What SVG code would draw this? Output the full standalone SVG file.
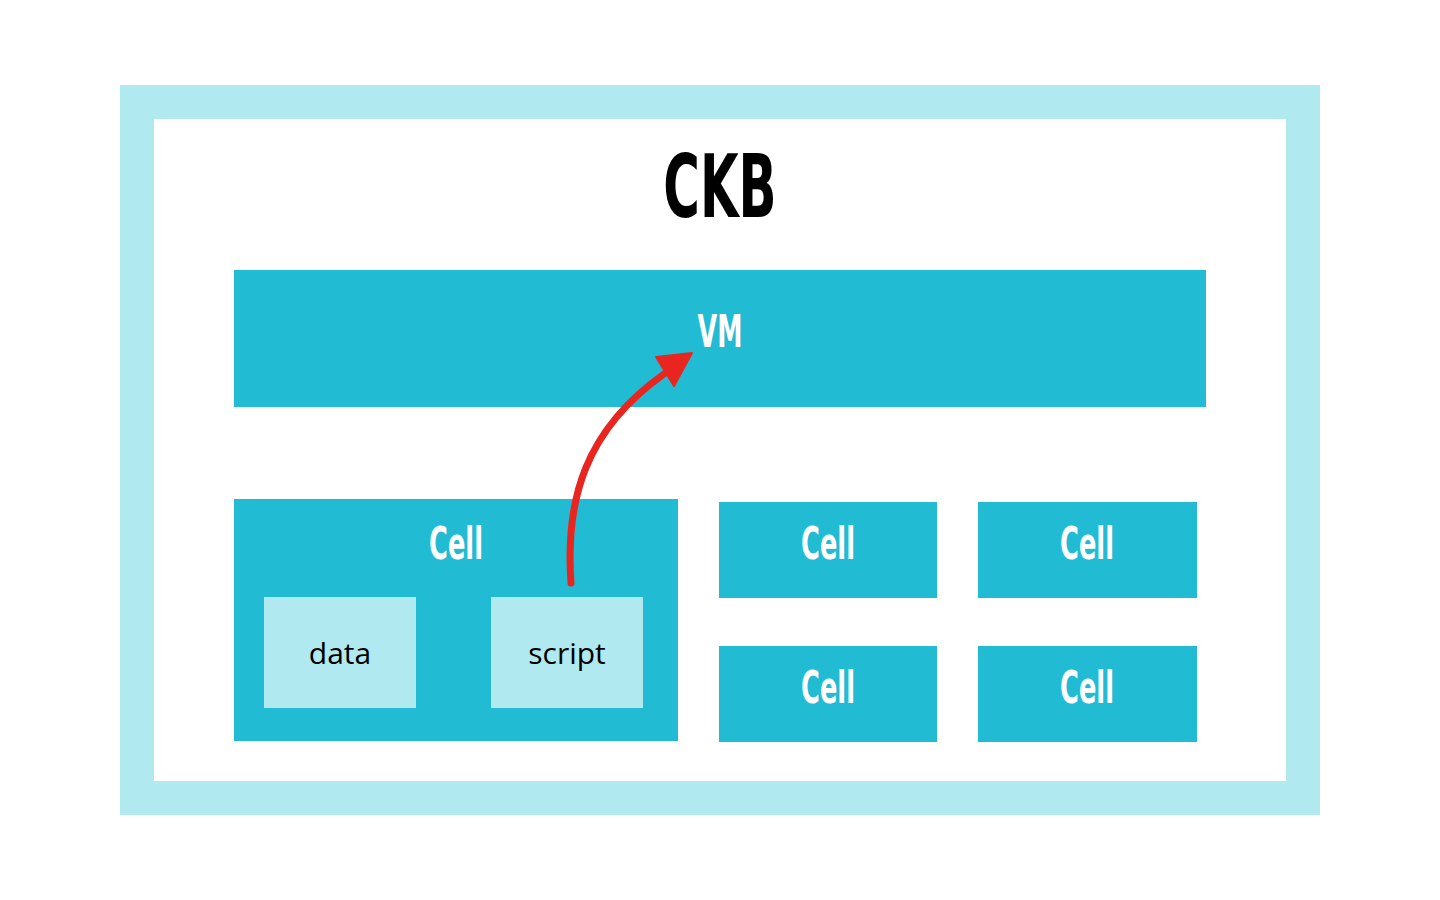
<svg xmlns="http://www.w3.org/2000/svg" width="1440" height="900" viewBox="0 0 1440 900">
<style>
.frame{fill:#B0EAF0}
.blk{fill:#22BBD4}
.lt{fill:#B0EAF0}
.cond{font-family:"DejaVu Sans Condensed","DejaVu Sans",sans-serif;font-weight:bold;text-anchor:middle}
.w{fill:#ffffff}
.lbl{font-family:"Open Sans","Liberation Sans",sans-serif;font-size:30px;fill:#000;text-anchor:middle}
</style>
<rect width="1440" height="900" fill="#ffffff"/>
<g id="ckb">
<rect class="frame" x="120" y="85" width="1200" height="730"/>
<rect fill="#ffffff" x="154" y="119" width="1132" height="662"/>
<text class="cond" x="720" y="217" font-size="88" fill="#000" transform="translate(720 0) scale(0.63 1) translate(-720 0)">CKB</text>
</g>
<g id="vm">
<rect class="blk" x="234" y="270" width="972" height="137"/>
<text class="cond w" x="720" y="347" font-size="44" transform="translate(720 0) scale(0.64 1) translate(-720 0)">VM</text>
</g>
<g id="cell-main">
<rect class="blk" x="234" y="499" width="444" height="242"/>
<text class="cond w" x="456" y="559" font-size="44" transform="translate(456 0) scale(0.65 1) translate(-456 0)">Cell</text>
</g>
<g id="data">
<rect class="lt" x="264" y="597" width="152" height="111"/>
<text class="lbl" x="340" y="664">data</text>
</g>
<g id="script">
<rect class="lt" x="491" y="597" width="152" height="111"/>
<text class="lbl" x="567" y="664">script</text>
</g>
<g id="cell-1">
<rect class="blk" x="719" y="502" width="218" height="96"/>
<text class="cond w" x="828" y="559" font-size="44" transform="translate(828 0) scale(0.65 1) translate(-828 0)">Cell</text>
</g>
<g id="cell-2">
<rect class="blk" x="978" y="502" width="219" height="96"/>
<text class="cond w" x="1087" y="559" font-size="44" transform="translate(1087 0) scale(0.65 1) translate(-1087 0)">Cell</text>
</g>
<g id="cell-3">
<rect class="blk" x="719" y="646" width="218" height="96"/>
<text class="cond w" x="828" y="703" font-size="44" transform="translate(828 0) scale(0.65 1) translate(-828 0)">Cell</text>
</g>
<g id="cell-4">
<rect class="blk" x="978" y="646" width="219" height="96"/>
<text class="cond w" x="1087" y="703" font-size="44" transform="translate(1087 0) scale(0.65 1) translate(-1087 0)">Cell</text>
</g>
<g id="connectors">
<path d="M571,583 C565,500 585,430 664,374" fill="none" stroke="#E8261F" stroke-width="7" stroke-linecap="round"/>
<polygon points="656,357 692,353 674,386" fill="#E8261F" stroke="#E8261F" stroke-width="2" stroke-linejoin="round"/>
</g>
</svg>
